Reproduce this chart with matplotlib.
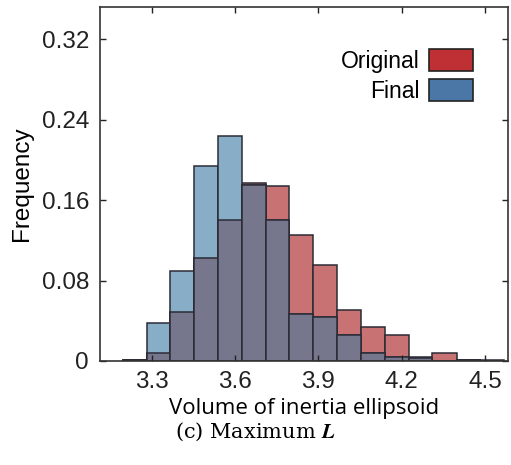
import numpy as np
import matplotlib.pyplot as plt
from matplotlib.patches import Patch

# histogram data
bin_edges = [3.196, 3.282, 3.366, 3.453, 3.539, 3.626, 3.710, 3.795, 3.882,
             3.968, 4.055, 4.141, 4.227, 4.311, 4.398, 4.484, 4.570]
original = [0.001, 0.008, 0.049, 0.102, 0.140, 0.177, 0.174, 0.125,
            0.095, 0.051, 0.034, 0.026, 0.004, 0.008, 0.001, 0.001]
final = [0.001, 0.038, 0.089, 0.194, 0.224, 0.175, 0.140, 0.047,
         0.044, 0.026, 0.008, 0.004, 0.003, 0.0, 0.001, 0.0]
x_ticks = [3.3, 3.6, 3.9, 4.2, 4.5]
y_ticks = [0, 0.08, 0.16, 0.24, 0.32]
y_ticklabels = ["0", "0.08", "0.16", "0.24", "0.32"]

red_fill = "#c97274"
blue_fill = "#87aec6"
overlap_fill = "#76778c"
red_legend = "#be3034"
blue_legend = "#4a77a6"
edge = "#2b2b36"

plt.rcParams['font.family'] = ['Liberation Sans', 'DejaVu Sans']
plt.rcParams['mathtext.fontset'] = 'cm'

fig = plt.figure(figsize=(5.11, 4.65), dpi=100)
ax = fig.add_axes([0.1957, 0.2237, 0.7983, 0.7613])

edges = np.array(bin_edges)
left = edges[:-1]
width = np.diff(edges)
orig = np.array(original)
fin = np.array(final)
overlap = np.minimum(orig, fin)

ax.bar(left, orig, width, align='edge', color=red_fill, edgecolor=edge, linewidth=1.1)
ax.bar(left, fin, width, align='edge', color=blue_fill, edgecolor=edge, linewidth=1.1)
ax.bar(left, overlap, width, align='edge', color=overlap_fill, edgecolor=edge, linewidth=1.1)

ax.set_xlim(3.114, 4.583)
ax.set_ylim(0, 0.352)
ax.set_xticks(x_ticks)
ax.set_xticklabels([f"{v:.1f}" for v in x_ticks])
ax.set_yticks(y_ticks)
ax.set_yticklabels(y_ticklabels)
ax.tick_params(direction='in', length=4, width=1, top=True, right=True,
               labelsize=17.5, colors='#222222')
ax.tick_params(axis='y', pad=8)
ax.tick_params(axis='x', pad=7)
for s in ax.spines.values():
    s.set_color('#333333')
    s.set_linewidth(1.2)

ax.set_ylabel("Frequency", fontsize=17.5, labelpad=6)
ax.set_xlabel("Volume of inertia ellipsoid", fontsize=16, labelpad=4,
              family=['Open Sans', 'DejaVu Sans'])

handles = [Patch(facecolor=red_legend, edgecolor='#222222', linewidth=1.2),
           Patch(facecolor=blue_legend, edgecolor='#222222', linewidth=1.2)]
ax.legend(handles, ["Original", "Final"], loc='upper right', frameon=False,
          markerfirst=False, fontsize=16.5, handlelength=1.92, handleheight=1.1,
          labelspacing=0.3, handletextpad=0.4, borderaxespad=0.0,
          bbox_to_anchor=(0.936, 0.908))

fig.text(0.5, 0.072, r"(c) Maximum $\mathbfit{L}$", ha='center', va='center',
         fontsize=15, family='DejaVu Serif', math_fontfamily='cm')

fig.savefig("out.png", dpi=100)
